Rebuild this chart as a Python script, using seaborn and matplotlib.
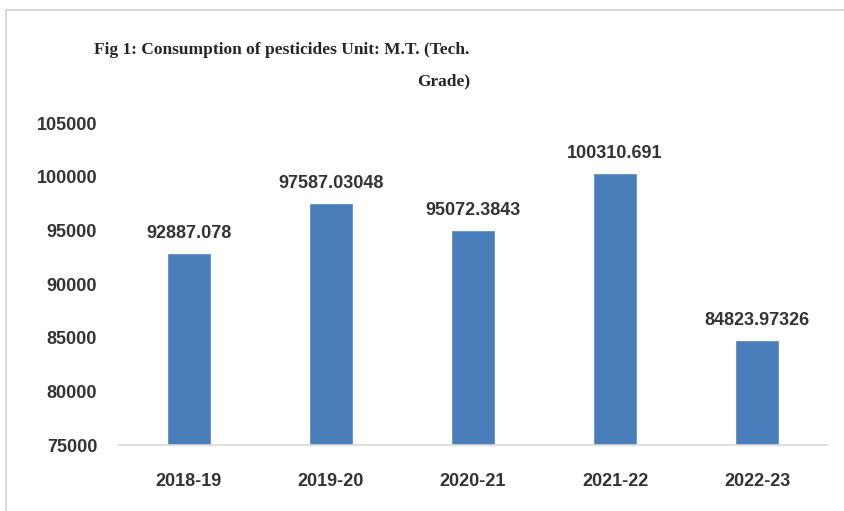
import matplotlib
matplotlib.use("Agg")
import matplotlib.pyplot as plt
import seaborn as sns
import pandas as pd
from matplotlib.patches import Rectangle

years = ["2018-19", "2019-20", "2020-21", "2021-22", "2022-23"]
consumption = [92887.078, 97587.03048, 95072.3843, 100310.691, 84823.97326]
value_labels = ["92887.078", "97587.03048", "95072.3843", "100310.691", "84823.97326"]
y_ticks = [75000, 80000, 85000, 90000, 95000, 100000, 105000]

df = pd.DataFrame({"year": years, "consumption": consumption})

sns.set_theme(style="white")
plt.rcParams["font.family"] = ["Liberation Sans", "DejaVu Sans"]

fig = plt.figure(figsize=(8.45, 5.11), dpi=100)
ax = fig.add_axes([0.1396, 0.129, 0.8404, 0.630])

sns.barplot(data=df, x="year", y="consumption", color="#4a7ebb",
            width=0.31, saturation=1, ax=ax)

ax.set_ylim(75000, 105000)
ax.set_yticks(y_ticks)
ax.set_yticklabels([str(t) for t in y_ticks])
ax.set_xlim(-0.5, len(years) - 0.5)
ax.set_xlabel("")
ax.set_ylabel("")

for s in ["top", "right", "left"]:
    ax.spines[s].set_visible(False)
ax.spines["bottom"].set_color("#d9d9d9")
ax.spines["bottom"].set_linewidth(1.2)

ax.tick_params(axis="both", length=0, labelsize=13, colors="#333333")
ax.tick_params(axis="y", pad=15)
ax.tick_params(axis="x", pad=20)
for lab in ax.get_xticklabels() + ax.get_yticklabels():
    lab.set_fontweight("bold")

for i, (v, lab) in enumerate(zip(consumption, value_labels)):
    ax.annotate(lab, (i, v), xytext=(0, 8), textcoords="offset points",
                ha="center", va="bottom", fontsize=13, fontweight="bold",
                color="#333333")

fig.text(0.556, 0.872, "Fig 1: Consumption of pesticides Unit: M.T. (Tech.\nGrade)",
         ha="right", va="center", multialignment="right",
         fontsize=12.5, fontweight="bold", family=["Liberation Serif"],
         color="#262626", linespacing=2.3)

# outer chart frame
fig.patches.append(Rectangle((6 / 845, -0.1), 1.2, (1 - 10 / 511) + 0.1,
                             transform=fig.transFigure, fill=False,
                             edgecolor="#d9d9d9", linewidth=1.5))

fig.savefig("out.png", dpi=100)
